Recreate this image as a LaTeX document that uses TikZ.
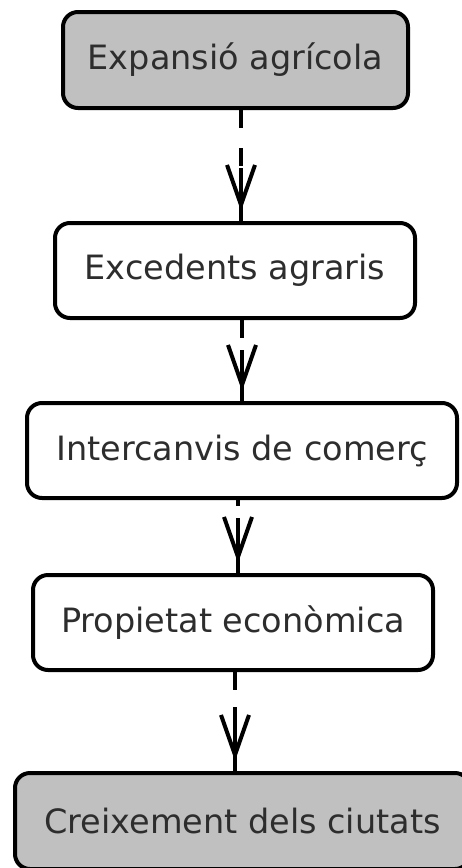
\documentclass[tikz,border=0pt]{standalone}
\usepackage{fontspec}
\setmainfont{DejaVu Sans}
\usetikzlibrary{arrows.meta,decorations.markings}
\definecolor{boxgray}{RGB}{192,192,192}
\definecolor{txt}{RGB}{45,45,45}
\tikzset{
  stepbox/.style={draw=black, line width=4pt, rounded corners=15pt, fill=white,
    inner sep=0pt, text=txt, font=\fontsize{33.5}{40}\selectfont, anchor=center},
  endbox/.style={stepbox, fill=boxgray},
  dashpart/.style={line width=4pt, dash pattern=on 18pt off 20pt},
  headpart/.style={line width=4pt, postaction={decorate},
    decoration={markings, mark=at position -10pt with {\arrow[line width=4pt]{Straight Barb[length=40pt,width=28pt]}}}}
}
\begin{document}
\begin{tikzpicture}[x=1pt,y=-1pt]
\useasboundingbox[fill=white] (0,0) rectangle (462,868);
\begin{scope}
\clip (0,0) rectangle (462,868);
\node[endbox, minimum width=345pt, minimum height=96pt] (e1) at (235.5,60) {Expansió agrícola};
\node[stepbox, minimum width=360pt, minimum height=95pt] (e2) at (235,270.5) {Excedents agraris};
\node[stepbox, minimum width=430pt, minimum height=95pt] (e3) at (242,450.5) {Intercanvis de comerç};
\node[stepbox, minimum width=400pt, minimum height=95pt] (e4) at (233,622.5) {Propietat econòmica};
\node[endbox, minimum width=455pt, minimum height=96pt] (e5) at (242.5,821) {Creixement dels ciutats};

\coordinate (h1) at (241,168);
\coordinate (h2) at (242,350);
\coordinate (h3) at (238,518);
\coordinate (h4) at (235,707);

\draw[dashpart] (e1.south -| h1) -- (h1);
\draw[headpart] (h1) -- (e2.north -| h1);
\draw[dashpart] (e2.south -| h2) -- (h2);
\draw[headpart] (h2) -- (e3.north -| h2);
\draw[dashpart, dash phase=12pt] (e3.south -| h3) -- (h3);
\draw[headpart] (h3) -- (e4.north -| h3);
\draw[dashpart] (e4.south -| h4) -- (h4);
\draw[headpart] (h4) -- (e5.north -| h4);
\end{scope}
\end{tikzpicture}
\end{document}
